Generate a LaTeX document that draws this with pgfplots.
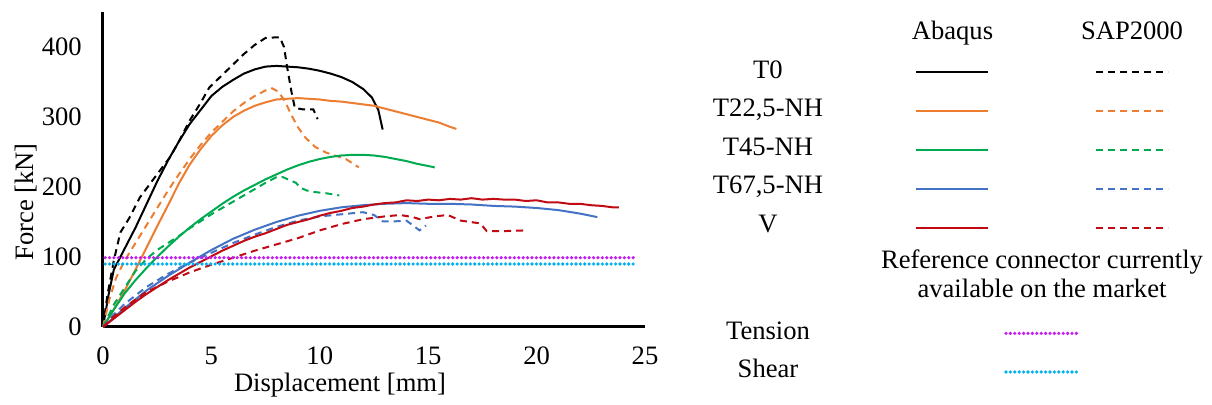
\documentclass[border=0pt]{standalone}
\usepackage{fontspec}
\setmainfont{Liberation Serif}
\usepackage{pgfplots}
\pgfplotsset{compat=1.18}
\definecolor{cOr}{RGB}{237,125,49}
\definecolor{cGr}{RGB}{0,170,80}
\definecolor{cBl}{RGB}{68,114,196}
\definecolor{cRd}{RGB}{192,10,20}
\definecolor{cMg}{RGB}{196,30,240}
\definecolor{cCy}{RGB}{0,176,240}
\tikzset{sol/.style={line width=1pt},
  dsh/.style={line width=1pt,dash pattern=on 3.5pt off 2.5pt},
  dts/.style={line width=1.8pt,line cap=round,dash pattern=on 0pt off 2.2pt}}
\begin{document}
\fontsize{13.3}{16}\selectfont
\begin{tikzpicture}[x=1pt,y=1pt]
\useasboundingbox (-51.5,-39) rectangle (554.5,163.5);
\begin{axis}[at={(0,0)},anchor=south west,scale only axis,
  width=271pt,height=157.5pt,
  xmin=0,xmax=25,ymin=0,ymax=450,
  axis x line*=bottom, axis y line*=left,
  axis line style={line width=1.5pt,-},
  xtick={0,5,...,25}, ytick={0,100,...,400},
  major tick length=0pt, tick style={draw=none},
  xticklabel style={yshift=-5.5pt},
  yticklabel style={xshift=-6pt},
  /pgf/number format/assume math mode=true,
  ticklabel style={font=\fontsize{13.3}{16}\selectfont},
  clip=false]
% T0 Abaqus
\addplot[sol,black] coordinates {(0,0)(0.25,45)(0.5,82)(1.0,112)(1.5,142)(2.0,175)(2.5,208)(3.0,238)(3.5,265)(4.0,290)(4.5,310)(5.0,330)(5.5,343)(6.0,353)(6.5,362)(7.0,368)(7.5,372)(8.0,373)(8.5,372)(9.0,371)(9.5,369)(10.0,366)(10.5,362)(11.0,357)(11.5,350)(12.0,340)(12.4,328)(12.7,310)(12.9,282)};
% T0 SAP2000
\addplot[dsh,black] coordinates {(0,0)(0.2,45)(0.5,95)(0.8,135)(1.2,155)(1.7,185)(2.3,210)(3.1,243)(3.5,265)(4.0,295)(4.5,320)(4.9,342)(5.5,360)(6.0,375)(6.5,390)(7.0,403)(7.5,413)(8.15,414)(8.35,400)(8.5,370)(8.7,335)(8.85,313)(9.2,311)(9.7,311)(9.9,297)};
% T22,5 Abaqus
\addplot[sol,cOr] coordinates {(0,0)(0.5,25)(1.0,52)(1.5,82)(2.0,113)(2.5,144)(3.0,174)(3.5,205)(4.0,232)(4.5,254)(5.0,273)(5.5,288)(6.0,300)(6.5,309)(7.0,316)(7.5,321)(8.0,325)(8.5,326)(9.0,327)(9.5,326)(10.0,325)(10.5,323)(11.0,322)(11.5,320)(12.0,318)(12.5,316)(13.0,312)(13.5,308)(14.0,304)(14.5,300)(15.0,296)(15.5,292)(16.0,286)(16.3,283)};
% T22,5 SAP2000
\addplot[dsh,cOr] coordinates {(0,0)(0.3,40)(0.6,70)(1.0,95)(1.5,120)(2.0,145)(2.5,170)(3.0,195)(3.5,218)(4.0,240)(4.5,260)(5.0,278)(5.5,293)(6.0,308)(6.5,320)(7.0,330)(7.5,338)(7.8,341)(8.1,336)(8.4,322)(8.7,302)(9.0,285)(9.35,270)(9.8,257)(10.3,249)(10.8,244)(11.2,240)(11.5,234)(11.8,228)};
% T45 Abaqus
\addplot[sol,cGr] coordinates {(0,0)(0.5,25)(1.0,48)(1.5,67)(2.0,84)(2.5,100)(3.0,115)(3.5,129)(4.0,142)(4.5,154)(5.0,165)(5.5,176)(6.0,186)(6.5,195)(7.0,203)(7.5,211)(8.0,218)(8.5,225)(9.0,231)(9.5,236)(10.0,240)(10.5,243)(11.0,245)(11.5,246)(12.0,246)(12.5,245)(13.0,243)(13.5,240)(14.0,237)(14.5,233)(15.0,230)(15.3,228)};
% T45 SAP2000
\addplot[dsh,cGr] coordinates {(0,0)(0.5,32)(1.0,56)(1.5,80)(2.0,97)(2.5,110)(3.0,120)(3.5,130)(4.0,141)(4.5,151)(5.0,161)(5.5,170)(6.0,179)(6.5,188)(7.0,197)(7.5,206)(8.0,214)(8.3,214)(8.6,210)(8.9,206)(9.1,199)(9.4,195)(9.7,193)(10.3,191)(10.9,188)};
% T67,5 Abaqus
\addplot[sol,cBl] coordinates {(0,0)(1,27)(2,52)(3,73)(4,92)(5,110)(6,126)(7,139)(8,150)(9,159)(10,166)(11,171)(12,174)(13,176)(14,177)(15,176)(16,176)(17,175)(18,173)(19,172)(20,170)(21,167)(22,162)(22.8,157)};
% T67,5 SAP2000
\addplot[dsh,cBl] coordinates {(0,0)(0.5,18)(1,33)(2,57)(3,76)(4,92)(5,106)(6,120)(7,132)(8,143)(9,152)(10,158)(11,161)(12,164)(12.5,160)(12.9,151)(13.5,151)(14.0,152)(14.3,145)(14.6,138)(14.9,145)};
% V Abaqus
\addplot[sol,cRd] coordinates {(0,0)(0.5,12)(1,24)(1.5,36)(2,47)(2.5,57)(3,67)(3.5,76)(4,85)(4.5,93)(5,101)(5.5,109)(6,116)(6.5,123)(7,129)(7.5,134)(8,140)(8.5,146)(9,150)(9.5,154)(10,159)(10.5,163)(11,166)(11.5,170)(12,172)(12.5,175)(13,177)(13.5,178)(14,181)(14.5,180)(15,182)(15.5,181)(16,183)(16.5,182)(17,184)(17.5,182)(18,183)(18.5,182)(19,182)(19.5,180)(20,181)(20.5,178)(21,178)(21.5,176)(22,176)(22.5,174)(23,173)(23.5,171)(23.8,171)};
% V SAP2000
\addplot[dsh,cRd] coordinates {(0,0)(0.5,15)(1,28)(2,50)(3,65)(4,78)(5,89)(6,99)(7,109)(8,118)(9,127)(10,138)(11,147)(12,154)(13,158)(13.7,160)(14.3,157)(14.6,154)(15.3,158)(15.9,160)(16.5,152)(17.4,148)(17.7,137)(18.5,137)(19.5,138)};
% Reference connector
\addplot[dts,cMg] coordinates {(0.1,99)(24.6,99)};
\addplot[dts,cCy] coordinates {(0.1,90)(24.6,90)};
\end{axis}
\node[anchor=base] at (118.5,-32.5) {Displacement [mm]};
\node[rotate=90,anchor=center] at (-38.5,62.5) {Force [kN]};
\node[anchor=base] at (424.75,143.5) {Abaqus};
\node[anchor=base] at (514.5,143.5) {SAP2000};
\node[anchor=base] at (332.5,124.2) {T0};
\node[anchor=base] at (332.5,105) {T22,5-NH};
\node[anchor=base] at (332.5,85.75) {T45-NH};
\node[anchor=base] at (332.5,66.5) {T67,5-NH};
\node[anchor=base] at (332.5,47.3) {V};
\draw[sol,black] (406.5,127.5) -- (442.5,127.5);
\draw[sol,cOr] (406.5,107.8) -- (442.5,107.8);
\draw[sol,cGr] (406.5,88.4) -- (442.5,88.4);
\draw[sol,cBl] (406.5,69) -- (442.5,69);
\draw[sol,cRd] (406.5,49.6) -- (442.5,49.6);
\draw[dsh,black] (496.5,127.5) -- (532.5,127.5);
\draw[dsh,cOr] (496.5,107.8) -- (532.5,107.8);
\draw[dsh,cGr] (496.5,88.4) -- (532.5,88.4);
\draw[dsh,cBl] (496.5,69) -- (532.5,69);
\draw[dsh,cRd] (496.5,49.6) -- (532.5,49.6);
\node[anchor=base] at (469.5,29) {Reference connector currently};
\node[anchor=base] at (469.5,14.6) {available on the market};
\node[anchor=base] at (332.5,-6.25) {Tension};
\node[anchor=base] at (332.5,-25.5) {Shear};
\draw[dts,cMg] (451.5,-3.2) -- (488,-3.2);
\draw[dts,cCy] (451.5,-22.5) -- (488,-22.5);
\end{tikzpicture}
\end{document}
